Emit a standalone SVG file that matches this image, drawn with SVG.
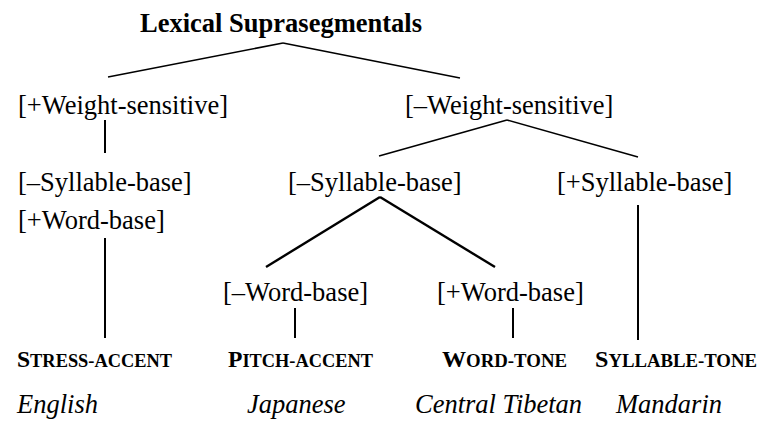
<svg xmlns="http://www.w3.org/2000/svg" width="761" height="421" viewBox="0 0 761 421">
<style>
text{font-family:'Liberation Serif','Times New Roman',serif;fill:#000}
.f{font-size:26.5px}
.t{font-size:28px;font-weight:bold}
.sc{font-weight:bold;font-size:23.5px}
.sm{font-size:18.3px}
.it{font-size:26.5px;font-style:italic}
.c line{stroke:#000;stroke-linecap:butt}
</style>
<rect width="761" height="421" fill="#fff"/>
<g class="c" id="connectors">
<line x1="283" y1="43" x2="108" y2="77" stroke-width="1.6"/>
<line x1="283" y1="43" x2="460" y2="78" stroke-width="1.6"/>
<line x1="105" y1="120" x2="105" y2="153" stroke-width="2"/>
<line x1="507" y1="120" x2="379" y2="156" stroke-width="1.6"/>
<line x1="507" y1="120" x2="638" y2="157" stroke-width="1.6"/>
<line x1="380" y1="197" x2="266" y2="267" stroke-width="2.4"/>
<line x1="380" y1="197" x2="495" y2="267" stroke-width="2.4"/>
<line x1="638" y1="205" x2="638" y2="340" stroke-width="2"/>
<line x1="105" y1="238" x2="105" y2="338" stroke-width="2"/>
<line x1="295" y1="308" x2="295" y2="338" stroke-width="2"/>
<line x1="513" y1="308" x2="513" y2="338" stroke-width="2"/>
</g>
<g id="root"><text class="t" x="140" y="32" textLength="282" lengthAdjust="spacingAndGlyphs">Lexical Suprasegmentals</text></g>
<g id="plus-weight"><text class="f" x="18" y="114">[+Weight-sensitive]</text></g>
<g id="minus-weight"><text class="f" x="405" y="114">[–Weight-sensitive]</text></g>
<g id="left-syll"><text class="f" x="18" y="191">[–Syllable-base]</text><text class="f" x="18" y="229">[+Word-base]</text></g>
<g id="mid-syll"><text class="f" x="288" y="191">[–Syllable-base]</text></g>
<g id="plus-syll"><text class="f" x="557" y="191">[+Syllable-base]</text></g>
<g id="minus-word"><text class="f" x="223" y="301">[–Word-base]</text></g>
<g id="plus-word"><text class="f" x="437" y="301">[+Word-base]</text></g>
<g id="stress"><text class="sc" x="17" y="367" textLength="155" lengthAdjust="spacingAndGlyphs">S<tspan class="sm">TRESS-ACCENT</tspan></text><text class="it" x="17" y="413">English</text></g>
<g id="pitch"><text class="sc" x="228" y="367" textLength="145" lengthAdjust="spacingAndGlyphs">P<tspan class="sm">ITCH-ACCENT</tspan></text><text class="it" x="247" y="413">Japanese</text></g>
<g id="wordtone"><text class="sc" x="442" y="367" textLength="125" lengthAdjust="spacingAndGlyphs">W<tspan class="sm">ORD-TONE</tspan></text><text class="it" x="415" y="413">Central Tibetan</text></g>
<g id="sylltone"><text class="sc" x="595" y="367" textLength="162" lengthAdjust="spacingAndGlyphs">S<tspan class="sm">YLLABLE-TONE</tspan></text><text class="it" x="616" y="413">Mandarin</text></g>
</svg>
